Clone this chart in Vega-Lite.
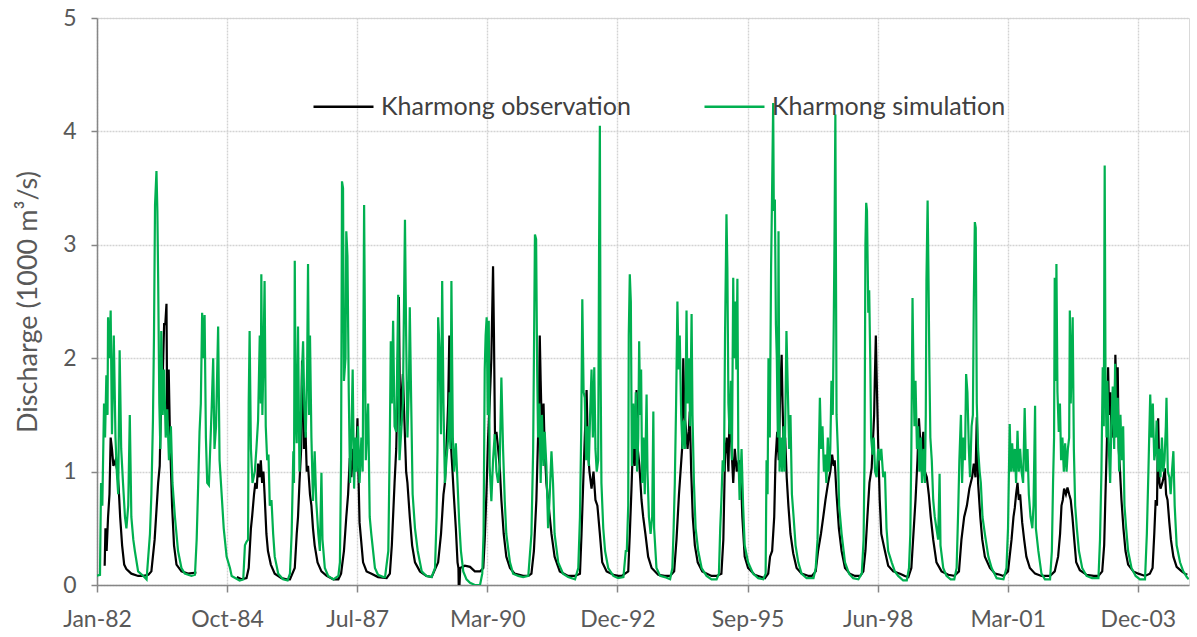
{
  "$schema": "https://vega.github.io/schema/vega-lite/v6.json",
  "width": 1092,
  "height": 567,
  "autosize": {"type": "none"},
  "padding": {"left": 97, "top": 18, "right": 8, "bottom": 52},
  "background": "#ffffff",
  "config": {
    "view": {"stroke": "#D9D9D9", "strokeWidth": 1},
    "font": "Lato",
    "axis": {
      "labelFont": "Lato",
      "titleFont": "Lato",
      "labelColor": "#595959",
      "titleColor": "#595959",
      "labelFontSize": 23,
      "titleFontSize": 27,
      "titleFontWeight": "normal",
      "domainColor": "#868686",
      "domainWidth": 1.5,
      "tickColor": "#868686",
      "tickWidth": 1.5,
      "gridColor": "#D3D3D3",
      "gridWidth": 1.4,
      "gridDash": [2, 1]
    },
    "legend": {
      "labelFont": "Lato",
      "labelFontSize": 25,
      "labelColor": "#404040",
      "labelLimit": 0
    }
  },
  "datasets": {
    "obs": [
      {"d":"1982-03-10","v":0.17,"s":1},{"d":"1982-03-16","v":0.5,"s":1},{"d":"1982-03-25","v":0.3,"s":1},{"d":"1982-04-05","v":0.6,"s":1},{"d":"1982-04-16","v":0.8,"s":1},{"d":"1982-04-25","v":1.3,"s":1},{"d":"1982-05-05","v":1.2,"s":1},{"d":"1982-05-16","v":1.05,"s":1},{"d":"1982-06-01","v":1.1,"s":1},{"d":"1982-06-16","v":1.0,"s":1},{"d":"1982-06-26","v":0.85,"s":1},{"d":"1982-07-07","v":0.6,"s":1},{"d":"1982-07-22","v":0.35,"s":1},{"d":"1982-08-07","v":0.18,"s":1},{"d":"1982-08-24","v":0.14,"s":1},{"d":"1982-10-01","v":0.1,"s":1},{"d":"1982-11-22","v":0.08,"s":1},
      {"d":"1983-01-01","v":0.08,"s":1},{"d":"1983-02-09","v":0.09,"s":1},{"d":"1983-03-04","v":0.12,"s":1},{"d":"1983-03-29","v":0.4,"s":1},{"d":"1983-04-25","v":0.9,"s":1},{"d":"1983-05-07","v":1.05,"s":1},{"d":"1983-05-15","v":1.5,"s":1},{"d":"1983-05-27","v":1.7,"s":1},{"d":"1983-06-10","v":2.3,"s":1},{"d":"1983-06-19","v":2.3,"s":1},{"d":"1983-06-28","v":2.48,"s":1},{"d":"1983-07-04","v":1.4,"s":1},{"d":"1983-07-15","v":1.9,"s":1},{"d":"1983-07-25","v":1.3,"s":1},{"d":"1983-08-10","v":0.7,"s":1},{"d":"1983-08-25","v":0.35,"s":1},{"d":"1983-09-13","v":0.18,"s":1},{"d":"1983-10-21","v":0.12,"s":1},{"d":"1983-12-10","v":0.1,"s":1},{"d":"1984-02-13","v":0.11,"s":1},
      {"d":"1984-12-20","v":0.07,"s":2},{"d":"1985-01-25","v":0.05,"s":2},{"d":"1985-03-04","v":0.06,"s":2},{"d":"1985-03-21","v":0.15,"s":2},{"d":"1985-04-07","v":0.5,"s":2},{"d":"1985-04-16","v":0.6,"s":2},{"d":"1985-05-01","v":0.8,"s":2},{"d":"1985-05-11","v":0.9,"s":2},{"d":"1985-05-22","v":0.85,"s":2},{"d":"1985-06-01","v":1.07,"s":2},{"d":"1985-06-12","v":0.95,"s":2},{"d":"1985-06-22","v":1.1,"s":2},{"d":"1985-07-02","v":0.9,"s":2},{"d":"1985-07-12","v":1.0,"s":2},{"d":"1985-07-21","v":0.8,"s":2},{"d":"1985-08-04","v":0.45,"s":2},{"d":"1985-08-16","v":0.3,"s":2},{"d":"1985-09-07","v":0.18,"s":2},{"d":"1985-10-07","v":0.1,"s":2},{"d":"1985-11-28","v":0.06,"s":2},
      {"d":"1986-01-07","v":0.05,"s":2},{"d":"1986-02-01","v":0.05,"s":2},{"d":"1986-03-10","v":0.15,"s":2},{"d":"1986-03-25","v":0.45,"s":2},{"d":"1986-04-04","v":0.6,"s":2},{"d":"1986-04-15","v":0.9,"s":2},{"d":"1986-04-28","v":1.2,"s":2},{"d":"1986-05-05","v":1.98,"s":2},{"d":"1986-05-13","v":1.8,"s":2},{"d":"1986-05-20","v":1.2,"s":2},{"d":"1986-06-01","v":1.35,"s":2},{"d":"1986-06-10","v":1.0,"s":2},{"d":"1986-06-20","v":1.05,"s":2},{"d":"1986-07-05","v":0.8,"s":2},{"d":"1986-07-16","v":0.7,"s":2},{"d":"1986-07-28","v":0.5,"s":2},{"d":"1986-08-10","v":0.35,"s":2},{"d":"1986-09-01","v":0.2,"s":2},{"d":"1986-10-01","v":0.12,"s":2},{"d":"1986-11-10","v":0.08,"s":2},
      {"d":"1987-01-01","v":0.05,"s":2},{"d":"1987-02-08","v":0.05,"s":2},{"d":"1987-03-01","v":0.1,"s":2},{"d":"1987-03-23","v":0.3,"s":2},{"d":"1987-04-10","v":0.6,"s":2},{"d":"1987-04-24","v":0.8,"s":2},{"d":"1987-05-07","v":1.12,"s":2},{"d":"1987-05-19","v":0.95,"s":2},{"d":"1987-06-01","v":1.2,"s":2},{"d":"1987-06-14","v":1.0,"s":2},{"d":"1987-06-25","v":1.1,"s":2},{"d":"1987-07-05","v":1.47,"s":2},{"d":"1987-07-12","v":1.0,"s":2},{"d":"1987-07-21","v":0.55,"s":2},{"d":"1987-08-17","v":0.2,"s":2},{"d":"1987-09-13","v":0.12,"s":2},{"d":"1987-10-21","v":0.1,"s":2},{"d":"1987-12-10","v":0.07,"s":2},
      {"d":"1988-02-14","v":0.06,"s":2},{"d":"1988-03-10","v":0.1,"s":2},{"d":"1988-03-25","v":0.35,"s":2},{"d":"1988-04-15","v":0.9,"s":2},{"d":"1988-04-28","v":1.2,"s":2},{"d":"1988-05-10","v":1.9,"s":2},{"d":"1988-05-18","v":2.54,"s":2},{"d":"1988-05-28","v":1.4,"s":2},{"d":"1988-06-05","v":1.6,"s":2},{"d":"1988-06-18","v":1.86,"s":2},{"d":"1988-07-04","v":1.3,"s":2},{"d":"1988-07-13","v":1.0,"s":2},{"d":"1988-07-23","v":0.9,"s":2},{"d":"1988-08-10","v":0.6,"s":2},{"d":"1988-08-28","v":0.35,"s":2},{"d":"1988-09-19","v":0.2,"s":2},{"d":"1988-10-27","v":0.12,"s":2},{"d":"1988-12-16","v":0.08,"s":2},
      {"d":"1989-01-25","v":0.07,"s":2},{"d":"1989-03-16","v":0.2,"s":2},{"d":"1989-04-07","v":0.45,"s":2},{"d":"1989-04-26","v":0.8,"s":2},{"d":"1989-05-07","v":0.9,"s":2},{"d":"1989-05-22","v":1.3,"s":2},{"d":"1989-06-01","v":1.6,"s":2},{"d":"1989-06-10","v":2.2,"s":2},{"d":"1989-06-19","v":1.3,"s":2},{"d":"1989-07-02","v":1.05,"s":2},{"d":"1989-07-14","v":0.8,"s":2},{"d":"1989-07-30","v":0.5,"s":2},{"d":"1989-08-12","v":0.2,"s":2},{"d":"1989-08-19","v":0.15,"s":2},{"d":"1989-08-21","v":0.0,"s":2},{"d":"1989-08-27","v":0.0,"s":2},{"d":"1989-09-02","v":0.15,"s":2},{"d":"1989-10-07","v":0.17,"s":2},{"d":"1989-11-16","v":0.16,"s":2},{"d":"1989-12-23","v":0.12,"s":2},
      {"d":"1990-02-01","v":0.12,"s":2},{"d":"1990-02-26","v":0.15,"s":2},{"d":"1990-03-09","v":0.4,"s":2},{"d":"1990-03-22","v":0.8,"s":2},{"d":"1990-04-04","v":1.3,"s":2},{"d":"1990-04-16","v":1.6,"s":2},{"d":"1990-04-29","v":2.0,"s":2},{"d":"1990-05-12","v":2.81,"s":2},{"d":"1990-05-19","v":2.2,"s":2},{"d":"1990-05-27","v":1.3,"s":2},{"d":"1990-06-07","v":1.35,"s":2},{"d":"1990-06-20","v":1.2,"s":2},{"d":"1990-07-02","v":1.05,"s":2},{"d":"1990-07-15","v":0.75,"s":2},{"d":"1990-08-02","v":0.45,"s":2},{"d":"1990-08-22","v":0.25,"s":2},{"d":"1990-09-19","v":0.15,"s":2},{"d":"1990-10-25","v":0.1,"s":2},{"d":"1990-12-29","v":0.08,"s":2},
      {"d":"1991-02-07","v":0.08,"s":2},{"d":"1991-03-03","v":0.1,"s":2},{"d":"1991-03-22","v":0.3,"s":2},{"d":"1991-04-10","v":0.75,"s":2},{"d":"1991-04-23","v":1.3,"s":2},{"d":"1991-05-01","v":1.7,"s":2},{"d":"1991-05-06","v":2.2,"s":2},{"d":"1991-05-13","v":1.8,"s":2},{"d":"1991-05-23","v":1.3,"s":2},{"d":"1991-06-04","v":1.6,"s":2},{"d":"1991-06-13","v":1.2,"s":2},{"d":"1991-06-26","v":0.9,"s":2},{"d":"1991-07-09","v":0.75,"s":2},{"d":"1991-08-04","v":0.45,"s":2},{"d":"1991-08-28","v":0.25,"s":2},{"d":"1991-10-07","v":0.12,"s":2},{"d":"1991-12-10","v":0.08,"s":2},
      {"d":"1992-02-01","v":0.08,"s":2},{"d":"1992-03-10","v":0.1,"s":2},{"d":"1992-03-22","v":0.45,"s":2},{"d":"1992-04-04","v":0.9,"s":2},{"d":"1992-04-16","v":1.3,"s":2},{"d":"1992-04-30","v":1.72,"s":2},{"d":"1992-05-10","v":1.2,"s":2},{"d":"1992-05-22","v":1.0,"s":2},{"d":"1992-06-07","v":0.85,"s":2},{"d":"1992-06-22","v":1.0,"s":2},{"d":"1992-07-07","v":0.75,"s":2},{"d":"1992-07-22","v":0.7,"s":2},{"d":"1992-08-10","v":0.45,"s":2},{"d":"1992-08-28","v":0.2,"s":2},{"d":"1992-10-01","v":0.12,"s":2},{"d":"1992-11-22","v":0.09,"s":2},{"d":"1992-12-28","v":0.08,"s":2},
      {"d":"1993-01-25","v":0.08,"s":2},{"d":"1993-03-16","v":0.12,"s":2},{"d":"1993-03-28","v":0.45,"s":2},{"d":"1993-04-10","v":0.85,"s":2},{"d":"1993-04-23","v":1.3,"s":2},{"d":"1993-05-05","v":1.05,"s":2},{"d":"1993-05-19","v":1.72,"s":2},{"d":"1993-05-28","v":1.2,"s":2},{"d":"1993-06-10","v":1.05,"s":2},{"d":"1993-06-26","v":0.75,"s":2},{"d":"1993-07-09","v":0.6,"s":2},{"d":"1993-07-26","v":0.45,"s":2},{"d":"1993-08-16","v":0.25,"s":2},{"d":"1993-09-12","v":0.15,"s":2},{"d":"1993-11-01","v":0.09,"s":2},{"d":"1993-12-22","v":0.08,"s":2},
      {"d":"1994-02-01","v":0.08,"s":2},{"d":"1994-03-04","v":0.12,"s":2},{"d":"1994-03-22","v":0.4,"s":2},{"d":"1994-04-10","v":0.8,"s":2},{"d":"1994-04-25","v":1.05,"s":2},{"d":"1994-05-04","v":1.2,"s":2},{"d":"1994-05-13","v":2.0,"s":2},{"d":"1994-05-22","v":1.5,"s":2},{"d":"1994-06-01","v":1.4,"s":2},{"d":"1994-06-15","v":1.2,"s":2},{"d":"1994-06-25","v":1.35,"s":2},{"d":"1994-07-02","v":1.53,"s":2},{"d":"1994-07-13","v":1.0,"s":2},{"d":"1994-07-25","v":0.6,"s":2},{"d":"1994-08-10","v":0.35,"s":2},{"d":"1994-09-01","v":0.2,"s":2},{"d":"1994-10-06","v":0.12,"s":2},{"d":"1994-12-16","v":0.08,"s":2},
      {"d":"1995-01-24","v":0.08,"s":2},{"d":"1995-03-02","v":0.1,"s":2},{"d":"1995-03-17","v":0.4,"s":2},{"d":"1995-03-30","v":1.15,"s":2},{"d":"1995-04-12","v":1.3,"s":2},{"d":"1995-04-25","v":1.0,"s":2},{"d":"1995-05-04","v":1.55,"s":2},{"d":"1995-05-17","v":1.25,"s":2},{"d":"1995-06-01","v":0.9,"s":2},{"d":"1995-06-13","v":1.2,"s":2},{"d":"1995-06-28","v":1.0,"s":2},{"d":"1995-07-13","v":1.1,"s":2},{"d":"1995-07-28","v":1.05,"s":2},{"d":"1995-08-10","v":0.6,"s":2},{"d":"1995-08-28","v":0.25,"s":2},{"d":"1995-09-23","v":0.15,"s":2},{"d":"1995-11-13","v":0.09,"s":2},{"d":"1995-12-10","v":0.08,"s":2},
      {"d":"1996-01-31","v":0.06,"s":2},{"d":"1996-02-25","v":0.1,"s":2},{"d":"1996-03-10","v":0.25,"s":2},{"d":"1996-03-26","v":0.3,"s":2},{"d":"1996-04-11","v":0.6,"s":2},{"d":"1996-04-21","v":1.1,"s":2},{"d":"1996-05-04","v":1.35,"s":2},{"d":"1996-05-16","v":1.1,"s":2},{"d":"1996-05-26","v":1.65,"s":2},{"d":"1996-06-07","v":2.03,"s":2},{"d":"1996-06-14","v":1.6,"s":2},{"d":"1996-06-25","v":1.1,"s":2},{"d":"1996-07-04","v":1.3,"s":2},{"d":"1996-07-16","v":0.95,"s":2},{"d":"1996-07-29","v":0.7,"s":2},{"d":"1996-08-14","v":0.45,"s":2},{"d":"1996-09-04","v":0.28,"s":2},{"d":"1996-09-30","v":0.15,"s":2},{"d":"1996-11-07","v":0.1,"s":2},
      {"d":"1997-01-01","v":0.08,"s":2},{"d":"1997-01-25","v":0.08,"s":2},{"d":"1997-02-24","v":0.12,"s":2},{"d":"1997-03-14","v":0.3,"s":2},{"d":"1997-04-05","v":0.45,"s":2},{"d":"1997-04-23","v":0.6,"s":2},{"d":"1997-05-10","v":0.75,"s":2},{"d":"1997-05-30","v":0.9,"s":2},{"d":"1997-06-16","v":1.0,"s":2},{"d":"1997-06-30","v":1.15,"s":2},{"d":"1997-07-12","v":1.05,"s":2},{"d":"1997-07-20","v":1.1,"s":2},{"d":"1997-08-03","v":0.8,"s":2},{"d":"1997-08-21","v":0.5,"s":2},{"d":"1997-09-11","v":0.3,"s":2},{"d":"1997-10-07","v":0.15,"s":2},{"d":"1997-11-13","v":0.1,"s":2},{"d":"1997-12-22","v":0.08,"s":2},
      {"d":"1998-02-01","v":0.08,"s":2},{"d":"1998-02-25","v":0.12,"s":2},{"d":"1998-03-13","v":0.3,"s":2},{"d":"1998-03-28","v":0.6,"s":2},{"d":"1998-04-13","v":0.9,"s":2},{"d":"1998-04-30","v":1.03,"s":2},{"d":"1998-05-11","v":1.3,"s":2},{"d":"1998-05-19","v":1.5,"s":2},{"d":"1998-05-24","v":1.8,"s":2},{"d":"1998-06-01","v":2.2,"s":2},{"d":"1998-06-08","v":1.8,"s":2},{"d":"1998-06-19","v":1.25,"s":2},{"d":"1998-07-01","v":0.75,"s":2},{"d":"1998-07-13","v":0.45,"s":2},{"d":"1998-08-10","v":0.3,"s":2},{"d":"1998-09-04","v":0.17,"s":2},{"d":"1998-10-13","v":0.12,"s":2},{"d":"1998-12-04","v":0.1,"s":2},
      {"d":"1999-01-10","v":0.08,"s":2},{"d":"1999-02-06","v":0.07,"s":2},{"d":"1999-03-01","v":0.15,"s":2},{"d":"1999-03-17","v":0.45,"s":2},{"d":"1999-04-02","v":0.75,"s":2},{"d":"1999-04-17","v":1.1,"s":2},{"d":"1999-04-28","v":1.47,"s":2},{"d":"1999-05-07","v":1.3,"s":2},{"d":"1999-05-17","v":1.15,"s":2},{"d":"1999-06-01","v":1.35,"s":2},{"d":"1999-06-13","v":1.0,"s":2},{"d":"1999-06-28","v":0.95,"s":2},{"d":"1999-07-13","v":0.8,"s":2},{"d":"1999-07-28","v":0.6,"s":2},{"d":"1999-08-16","v":0.4,"s":2},{"d":"1999-09-10","v":0.2,"s":2},{"d":"1999-10-19","v":0.12,"s":2},{"d":"1999-12-10","v":0.09,"s":2},
      {"d":"2000-01-25","v":0.08,"s":2},{"d":"2000-03-01","v":0.12,"s":2},{"d":"2000-03-20","v":0.4,"s":2},{"d":"2000-04-10","v":0.6,"s":2},{"d":"2000-05-01","v":0.7,"s":2},{"d":"2000-05-20","v":0.85,"s":2},{"d":"2000-06-10","v":0.95,"s":2},{"d":"2000-06-23","v":1.07,"s":2},{"d":"2000-07-06","v":0.95,"s":2},{"d":"2000-07-16","v":1.48,"s":2},{"d":"2000-07-26","v":0.9,"s":2},{"d":"2000-08-12","v":0.6,"s":2},{"d":"2000-08-27","v":0.4,"s":2},{"d":"2000-09-16","v":0.25,"s":2},{"d":"2000-10-25","v":0.15,"s":2},{"d":"2000-12-04","v":0.1,"s":2},
      {"d":"2001-01-10","v":0.09,"s":2},{"d":"2001-02-06","v":0.08,"s":2},{"d":"2001-03-13","v":0.12,"s":2},{"d":"2001-04-09","v":0.4,"s":2},{"d":"2001-04-24","v":0.6,"s":2},{"d":"2001-05-04","v":0.68,"s":2},{"d":"2001-05-14","v":0.8,"s":2},{"d":"2001-05-25","v":0.9,"s":2},{"d":"2001-06-04","v":0.75,"s":2},{"d":"2001-06-14","v":0.8,"s":2},{"d":"2001-06-30","v":0.55,"s":2},{"d":"2001-07-15","v":0.4,"s":2},{"d":"2001-08-01","v":0.25,"s":2},{"d":"2001-08-28","v":0.15,"s":2},{"d":"2001-10-07","v":0.1,"s":2},{"d":"2001-11-25","v":0.08,"s":2},
      {"d":"2002-01-04","v":0.08,"s":2},{"d":"2002-01-30","v":0.08,"s":2},{"d":"2002-03-07","v":0.12,"s":2},{"d":"2002-04-02","v":0.25,"s":2},{"d":"2002-04-17","v":0.45,"s":2},{"d":"2002-04-28","v":0.7,"s":2},{"d":"2002-05-08","v":0.75,"s":2},{"d":"2002-05-18","v":0.85,"s":2},{"d":"2002-06-01","v":0.8,"s":2},{"d":"2002-06-13","v":0.86,"s":2},{"d":"2002-06-26","v":0.8,"s":2},{"d":"2002-07-08","v":0.75,"s":2},{"d":"2002-07-21","v":0.6,"s":2},{"d":"2002-08-04","v":0.4,"s":2},{"d":"2002-08-19","v":0.2,"s":2},{"d":"2002-09-16","v":0.13,"s":2},{"d":"2002-11-07","v":0.09,"s":2},
      {"d":"2003-01-01","v":0.08,"s":2},{"d":"2003-02-06","v":0.08,"s":2},{"d":"2003-03-07","v":0.12,"s":2},{"d":"2003-03-22","v":0.35,"s":2},{"d":"2003-04-01","v":0.8,"s":2},{"d":"2003-04-13","v":1.3,"s":2},{"d":"2003-04-21","v":1.92,"s":2},{"d":"2003-04-29","v":1.5,"s":2},{"d":"2003-05-09","v":1.7,"s":2},{"d":"2003-05-19","v":1.3,"s":2},{"d":"2003-05-27","v":1.5,"s":2},{"d":"2003-06-09","v":1.3,"s":2},{"d":"2003-06-16","v":2.03,"s":2},{"d":"2003-06-25","v":1.6,"s":2},{"d":"2003-07-04","v":1.92,"s":2},{"d":"2003-07-12","v":1.2,"s":2},{"d":"2003-07-22","v":1.0,"s":2},{"d":"2003-08-02","v":0.75,"s":2},{"d":"2003-08-17","v":0.5,"s":2},{"d":"2003-09-02","v":0.3,"s":2},{"d":"2003-09-22","v":0.18,"s":2},{"d":"2003-11-01","v":0.12,"s":2},{"d":"2003-12-10","v":0.1,"s":2},
      {"d":"2004-01-30","v":0.08,"s":2},{"d":"2004-03-07","v":0.1,"s":2},{"d":"2004-03-28","v":0.15,"s":2},{"d":"2004-04-10","v":0.45,"s":2},{"d":"2004-04-21","v":0.75,"s":2},{"d":"2004-05-01","v":0.7,"s":2},{"d":"2004-05-10","v":1.47,"s":2},{"d":"2004-05-20","v":0.9,"s":2},{"d":"2004-05-28","v":0.85,"s":2},{"d":"2004-06-11","v":0.9,"s":2},{"d":"2004-06-21","v":0.95,"s":2},{"d":"2004-06-30","v":1.03,"s":2},{"d":"2004-07-10","v":0.8,"s":2},{"d":"2004-07-21","v":0.75,"s":2},{"d":"2004-08-04","v":0.55,"s":2},{"d":"2004-08-16","v":0.4,"s":2},{"d":"2004-09-04","v":0.25,"s":2},{"d":"2004-09-29","v":0.16,"s":2},{"d":"2004-11-07","v":0.12,"s":2},{"d":"2004-12-01","v":0.1,"s":2},{"d":"2004-12-20","v":0.09,"s":2}
    ],
    "sim": [
      {"d":"1982-01-01","v":0.08},{"d":"1982-02-02","v":0.09},{"d":"1982-02-10","v":0.9},{"d":"1982-02-20","v":0.7},{"d":"1982-03-05","v":1.6},{"d":"1982-03-13","v":1.3},{"d":"1982-03-23","v":1.85},{"d":"1982-04-01","v":1.5},{"d":"1982-04-05","v":2.36},{"d":"1982-04-16","v":2.0},{"d":"1982-04-25","v":2.42},{"d":"1982-05-05","v":1.33},{"d":"1982-05-19","v":2.2},{"d":"1982-06-01","v":1.3},{"d":"1982-06-11","v":1.0},{"d":"1982-06-22","v":0.8},{"d":"1982-07-03","v":2.07},{"d":"1982-07-15","v":1.2},{"d":"1982-07-29","v":0.9},{"d":"1982-08-13","v":0.6},{"d":"1982-08-24","v":0.5},{"d":"1982-09-07","v":0.7},{"d":"1982-09-19","v":1.5},{"d":"1982-10-01","v":0.6},{"d":"1982-10-16","v":0.4},{"d":"1982-10-28","v":0.3},{"d":"1982-11-22","v":0.12},
      {"d":"1983-01-01","v":0.08},{"d":"1983-01-26","v":0.05},{"d":"1983-02-21","v":0.45},{"d":"1983-03-04","v":0.8},{"d":"1983-03-16","v":1.45},{"d":"1983-03-24","v":2.2},{"d":"1983-04-01","v":3.35},{"d":"1983-04-12","v":3.65},{"d":"1983-04-19","v":3.3},{"d":"1983-04-25","v":2.7},{"d":"1983-05-04","v":1.6},{"d":"1983-05-12","v":1.2},{"d":"1983-05-19","v":2.24},{"d":"1983-05-30","v":1.5},{"d":"1983-06-10","v":1.9},{"d":"1983-06-22","v":1.3},{"d":"1983-07-04","v":1.55},{"d":"1983-07-17","v":1.1},{"d":"1983-08-01","v":1.4},{"d":"1983-08-13","v":0.9},{"d":"1983-09-01","v":0.6},{"d":"1983-09-25","v":0.3},{"d":"1983-10-21","v":0.15},{"d":"1983-11-16","v":0.1},
      {"d":"1984-01-06","v":0.08},{"d":"1984-02-02","v":0.09},{"d":"1984-02-15","v":0.4},{"d":"1984-02-27","v":0.9},{"d":"1984-03-08","v":1.35},{"d":"1984-03-18","v":1.6},{"d":"1984-03-28","v":2.4},{"d":"1984-04-08","v":2.0},{"d":"1984-04-16","v":2.38},{"d":"1984-04-26","v":1.3},{"d":"1984-05-06","v":0.9},{"d":"1984-05-19","v":0.88},{"d":"1984-05-29","v":1.2},{"d":"1984-06-09","v":1.55},{"d":"1984-06-21","v":2.0},{"d":"1984-07-01","v":1.2},{"d":"1984-07-13","v":1.4},{"d":"1984-07-29","v":2.28},{"d":"1984-08-09","v":1.1},{"d":"1984-08-25","v":0.8},{"d":"1984-09-10","v":0.5},{"d":"1984-10-02","v":0.25},{"d":"1984-10-28","v":0.15},{"d":"1984-11-10","v":0.08},
      {"d":"1985-01-10","v":0.04},{"d":"1985-02-07","v":0.05},{"d":"1985-02-20","v":0.35},{"d":"1985-03-04","v":0.38},{"d":"1985-03-16","v":0.4},{"d":"1985-03-21","v":1.6},{"d":"1985-03-28","v":2.24},{"d":"1985-04-07","v":1.2},{"d":"1985-04-19","v":0.9},{"d":"1985-05-07","v":1.0},{"d":"1985-05-19","v":1.2},{"d":"1985-06-01","v":1.45},{"d":"1985-06-14","v":2.2},{"d":"1985-06-22","v":1.6},{"d":"1985-06-26","v":2.74},{"d":"1985-07-04","v":1.5},{"d":"1985-07-12","v":1.95},{"d":"1985-07-21","v":2.68},{"d":"1985-07-30","v":1.4},{"d":"1985-08-10","v":1.1},{"d":"1985-08-20","v":1.15},{"d":"1985-08-30","v":0.7},{"d":"1985-09-12","v":0.75},{"d":"1985-09-25","v":0.45},{"d":"1985-10-07","v":0.25},{"d":"1985-11-03","v":0.1},{"d":"1985-12-10","v":0.05},
      {"d":"1986-01-14","v":0.04},{"d":"1986-02-01","v":0.1},{"d":"1986-02-14","v":0.45},{"d":"1986-02-27","v":1.18},{"d":"1986-03-04","v":0.9},{"d":"1986-03-10","v":2.86},{"d":"1986-03-17","v":1.5},{"d":"1986-03-25","v":1.25},{"d":"1986-04-04","v":2.28},{"d":"1986-04-15","v":1.0},{"d":"1986-04-25","v":1.4},{"d":"1986-05-05","v":1.9},{"d":"1986-05-13","v":2.15},{"d":"1986-05-22","v":1.6},{"d":"1986-06-02","v":1.3},{"d":"1986-06-13","v":1.9},{"d":"1986-06-20","v":2.83},{"d":"1986-06-28","v":1.5},{"d":"1986-07-05","v":2.2},{"d":"1986-07-16","v":1.3},{"d":"1986-07-28","v":0.74},{"d":"1986-08-10","v":1.18},{"d":"1986-08-22","v":0.74},{"d":"1986-09-07","v":0.45},{"d":"1986-09-19","v":0.3},{"d":"1986-10-01","v":0.99},{"d":"1986-10-09","v":0.4},{"d":"1986-10-27","v":0.15},{"d":"1986-11-22","v":0.08},
      {"d":"1987-01-01","v":0.05},{"d":"1987-02-08","v":0.08},{"d":"1987-02-20","v":0.2},{"d":"1987-03-01","v":1.1},{"d":"1987-03-08","v":3.56},{"d":"1987-03-16","v":3.5},{"d":"1987-03-23","v":1.8},{"d":"1987-04-04","v":2.0},{"d":"1987-04-10","v":3.12},{"d":"1987-04-19","v":2.9},{"d":"1987-04-29","v":1.7},{"d":"1987-05-09","v":0.9},{"d":"1987-05-19","v":1.3},{"d":"1987-05-29","v":1.9},{"d":"1987-06-09","v":0.85},{"d":"1987-06-19","v":1.3},{"d":"1987-06-29","v":1.0},{"d":"1987-07-09","v":1.4},{"d":"1987-07-21","v":0.9},{"d":"1987-08-04","v":1.3},{"d":"1987-08-14","v":1.0},{"d":"1987-08-25","v":3.35},{"d":"1987-09-07","v":1.1},{"d":"1987-09-25","v":1.6},{"d":"1987-10-07","v":0.6},{"d":"1987-10-19","v":0.45},{"d":"1987-11-16","v":0.15},{"d":"1987-12-10","v":0.09},
      {"d":"1988-01-20","v":0.07},{"d":"1988-02-02","v":0.07},{"d":"1988-02-27","v":0.3},{"d":"1988-03-10","v":1.33},{"d":"1988-03-17","v":2.15},{"d":"1988-03-25","v":1.6},{"d":"1988-04-04","v":2.33},{"d":"1988-04-15","v":1.4},{"d":"1988-04-28","v":1.35},{"d":"1988-05-13","v":2.56},{"d":"1988-05-23","v":1.1},{"d":"1988-06-05","v":1.35},{"d":"1988-06-18","v":1.6},{"d":"1988-07-04","v":3.22},{"d":"1988-07-13","v":2.2},{"d":"1988-07-23","v":1.3},{"d":"1988-08-04","v":1.8},{"d":"1988-08-10","v":2.45},{"d":"1988-08-21","v":1.6},{"d":"1988-09-01","v":0.8},{"d":"1988-09-19","v":0.5},{"d":"1988-10-10","v":0.3},{"d":"1988-11-10","v":0.12},{"d":"1988-12-16","v":0.08},
      {"d":"1989-01-25","v":0.07},{"d":"1989-02-20","v":0.15},{"d":"1989-03-04","v":0.6},{"d":"1989-03-11","v":1.2},{"d":"1989-03-16","v":2.36},{"d":"1989-03-26","v":2.1},{"d":"1989-04-07","v":1.33},{"d":"1989-04-16","v":2.68},{"d":"1989-04-26","v":1.6},{"d":"1989-05-07","v":0.9},{"d":"1989-05-19","v":1.1},{"d":"1989-06-01","v":1.3},{"d":"1989-06-12","v":1.7},{"d":"1989-06-19","v":1.2},{"d":"1989-06-26","v":2.68},{"d":"1989-07-07","v":1.3},{"d":"1989-07-17","v":1.0},{"d":"1989-07-30","v":1.25},{"d":"1989-08-12","v":0.9},{"d":"1989-08-25","v":0.55},{"d":"1989-09-07","v":0.3},{"d":"1989-09-25","v":0.12},{"d":"1989-10-20","v":0.05},{"d":"1989-11-16","v":0.02},{"d":"1989-12-23","v":0.0},
      {"d":"1990-02-01","v":0.0},{"d":"1990-02-18","v":0.1},{"d":"1990-02-28","v":0.45},{"d":"1990-03-09","v":1.9},{"d":"1990-03-16","v":2.2},{"d":"1990-03-24","v":2.36},{"d":"1990-04-01","v":1.5},{"d":"1990-04-09","v":2.33},{"d":"1990-04-16","v":1.05},{"d":"1990-04-29","v":0.74},{"d":"1990-05-12","v":1.1},{"d":"1990-05-25","v":1.33},{"d":"1990-06-07","v":1.0},{"d":"1990-06-20","v":0.9},{"d":"1990-07-02","v":1.05},{"d":"1990-07-15","v":1.83},{"d":"1990-07-28","v":1.2},{"d":"1990-08-10","v":0.74},{"d":"1990-08-22","v":0.45},{"d":"1990-09-19","v":0.2},{"d":"1990-10-13","v":0.1},{"d":"1990-11-22","v":0.08},{"d":"1990-12-29","v":0.07},
      {"d":"1991-02-07","v":0.08},{"d":"1991-03-03","v":0.45},{"d":"1991-03-16","v":1.18},{"d":"1991-03-22","v":1.98},{"d":"1991-03-30","v":3.09},{"d":"1991-04-08","v":3.05},{"d":"1991-04-16","v":1.9},{"d":"1991-04-23","v":1.3},{"d":"1991-05-03","v":1.6},{"d":"1991-05-13","v":0.9},{"d":"1991-05-23","v":1.5},{"d":"1991-06-04","v":1.05},{"d":"1991-06-13","v":1.35},{"d":"1991-06-26","v":1.05},{"d":"1991-07-09","v":0.5},{"d":"1991-07-22","v":0.8},{"d":"1991-08-04","v":1.18},{"d":"1991-08-16","v":0.9},{"d":"1991-08-28","v":0.45},{"d":"1991-09-25","v":0.2},{"d":"1991-11-01","v":0.1},{"d":"1991-12-10","v":0.07},
      {"d":"1992-02-01","v":0.05},{"d":"1992-02-26","v":0.15},{"d":"1992-03-10","v":0.6},{"d":"1992-03-19","v":1.3},{"d":"1992-03-28","v":2.52},{"d":"1992-04-07","v":1.7},{"d":"1992-04-16","v":1.65},{"d":"1992-04-27","v":1.1},{"d":"1992-05-07","v":1.4},{"d":"1992-05-17","v":1.05},{"d":"1992-05-27","v":1.5},{"d":"1992-06-07","v":1.9},{"d":"1992-06-17","v":1.3},{"d":"1992-06-28","v":1.92},{"d":"1992-07-07","v":1.2},{"d":"1992-07-17","v":1.0},{"d":"1992-07-28","v":1.1},{"d":"1992-08-04","v":3.0},{"d":"1992-08-10","v":4.05},{"d":"1992-08-15","v":2.0},{"d":"1992-08-22","v":0.9},{"d":"1992-09-05","v":0.5},{"d":"1992-09-19","v":0.3},{"d":"1992-10-13","v":0.15},{"d":"1992-11-22","v":0.08},{"d":"1992-12-28","v":0.06},
      {"d":"1993-02-07","v":0.07},{"d":"1993-02-25","v":0.3},{"d":"1993-03-05","v":0.3},{"d":"1993-03-16","v":0.7},{"d":"1993-03-20","v":2.2},{"d":"1993-03-28","v":2.74},{"d":"1993-04-05","v":2.5},{"d":"1993-04-13","v":1.05},{"d":"1993-04-23","v":1.6},{"d":"1993-05-03","v":1.2},{"d":"1993-05-13","v":1.7},{"d":"1993-05-23","v":1.0},{"d":"1993-06-01","v":1.3},{"d":"1993-06-08","v":2.15},{"d":"1993-06-16","v":1.5},{"d":"1993-06-23","v":1.9},{"d":"1993-07-01","v":0.9},{"d":"1993-07-11","v":1.3},{"d":"1993-07-21","v":0.8},{"d":"1993-08-04","v":1.68},{"d":"1993-08-11","v":1.0},{"d":"1993-08-22","v":0.6},{"d":"1993-09-04","v":0.45},{"d":"1993-09-16","v":0.6},{"d":"1993-09-25","v":1.53},{"d":"1993-10-01","v":0.5},{"d":"1993-10-19","v":0.15},{"d":"1993-11-16","v":0.08},{"d":"1993-12-22","v":0.07},
      {"d":"1994-02-01","v":0.05},{"d":"1994-02-18","v":0.15},{"d":"1994-02-28","v":0.5},{"d":"1994-03-09","v":0.9},{"d":"1994-03-19","v":1.6},{"d":"1994-03-29","v":2.5},{"d":"1994-04-07","v":1.9},{"d":"1994-04-16","v":2.2},{"d":"1994-04-27","v":1.5},{"d":"1994-05-07","v":1.2},{"d":"1994-05-17","v":1.45},{"d":"1994-05-27","v":1.2},{"d":"1994-06-07","v":2.42},{"d":"1994-06-15","v":1.6},{"d":"1994-06-25","v":2.0},{"d":"1994-07-05","v":1.4},{"d":"1994-07-16","v":2.39},{"d":"1994-07-23","v":1.5},{"d":"1994-08-03","v":0.9},{"d":"1994-08-16","v":0.5},{"d":"1994-09-05","v":0.3},{"d":"1994-10-01","v":0.15},{"d":"1994-11-08","v":0.08},{"d":"1994-12-16","v":0.05},
      {"d":"1995-01-24","v":0.05},{"d":"1995-02-11","v":0.1},{"d":"1995-02-21","v":0.5},{"d":"1995-03-02","v":0.75},{"d":"1995-03-12","v":1.1},{"d":"1995-03-22","v":1.0},{"d":"1995-03-30","v":2.2},{"d":"1995-04-10","v":3.27},{"d":"1995-04-17","v":2.8},{"d":"1995-04-25","v":1.6},{"d":"1995-05-04","v":1.33},{"d":"1995-05-14","v":1.8},{"d":"1995-05-22","v":1.1},{"d":"1995-06-01","v":2.71},{"d":"1995-06-07","v":2.0},{"d":"1995-06-18","v":2.5},{"d":"1995-06-25","v":1.9},{"d":"1995-07-03","v":2.7},{"d":"1995-07-10","v":1.2},{"d":"1995-07-20","v":0.75},{"d":"1995-08-04","v":1.2},{"d":"1995-08-16","v":0.7},{"d":"1995-08-28","v":0.35},{"d":"1995-09-23","v":0.2},{"d":"1995-11-01","v":0.1},{"d":"1995-12-10","v":0.06},
      {"d":"1996-01-18","v":0.05},{"d":"1996-02-05","v":0.1},{"d":"1996-02-12","v":1.1},{"d":"1996-02-20","v":0.8},{"d":"1996-02-27","v":2.0},{"d":"1996-03-08","v":1.3},{"d":"1996-03-18","v":2.8},{"d":"1996-03-26","v":3.5},{"d":"1996-04-03","v":4.25},{"d":"1996-04-08","v":3.3},{"d":"1996-04-16","v":3.4},{"d":"1996-04-24","v":2.3},{"d":"1996-05-01","v":2.0},{"d":"1996-05-09","v":1.3},{"d":"1996-05-14","v":3.12},{"d":"1996-05-22","v":1.0},{"d":"1996-06-01","v":1.3},{"d":"1996-06-11","v":1.0},{"d":"1996-06-22","v":1.4},{"d":"1996-06-30","v":1.0},{"d":"1996-07-14","v":2.24},{"d":"1996-07-25","v":1.7},{"d":"1996-08-04","v":1.2},{"d":"1996-08-14","v":1.5},{"d":"1996-08-25","v":0.8},{"d":"1996-09-07","v":0.6},{"d":"1996-09-22","v":0.35},{"d":"1996-10-13","v":0.2},{"d":"1996-11-07","v":0.1},{"d":"1996-12-16","v":0.06},
      {"d":"1997-02-07","v":0.06},{"d":"1997-02-24","v":0.15},{"d":"1997-03-10","v":0.4},{"d":"1997-03-19","v":1.1},{"d":"1997-03-28","v":1.65},{"d":"1997-04-07","v":1.2},{"d":"1997-04-17","v":1.4},{"d":"1997-04-28","v":1.0},{"d":"1997-05-07","v":1.15},{"d":"1997-05-17","v":0.9},{"d":"1997-05-28","v":1.3},{"d":"1997-06-05","v":1.0},{"d":"1997-06-16","v":1.2},{"d":"1997-06-25","v":1.8},{"d":"1997-07-05","v":1.5},{"d":"1997-07-12","v":2.24},{"d":"1997-07-18","v":3.0},{"d":"1997-07-25","v":4.15},{"d":"1997-08-03","v":1.5},{"d":"1997-08-13","v":1.2},{"d":"1997-08-23","v":0.7},{"d":"1997-09-11","v":0.45},{"d":"1997-10-07","v":0.2},{"d":"1997-11-07","v":0.1},{"d":"1997-12-09","v":0.06},
      {"d":"1998-01-18","v":0.05},{"d":"1998-02-13","v":0.1},{"d":"1998-02-27","v":0.4},{"d":"1998-03-06","v":1.1},{"d":"1998-03-13","v":3.0},{"d":"1998-03-19","v":3.37},{"d":"1998-03-25","v":3.3},{"d":"1998-04-04","v":2.4},{"d":"1998-04-11","v":2.6},{"d":"1998-04-19","v":2.0},{"d":"1998-04-26","v":1.3},{"d":"1998-05-07","v":1.15},{"d":"1998-05-16","v":1.3},{"d":"1998-05-26","v":1.0},{"d":"1998-06-07","v":0.95},{"d":"1998-06-19","v":1.2},{"d":"1998-07-01","v":1.1},{"d":"1998-07-13","v":1.2},{"d":"1998-07-28","v":0.95},{"d":"1998-08-10","v":1.0},{"d":"1998-08-22","v":0.5},{"d":"1998-09-04","v":0.3},{"d":"1998-10-01","v":0.2},{"d":"1998-10-25","v":0.12},{"d":"1998-11-20","v":0.08},{"d":"1998-12-28","v":0.04},
      {"d":"1999-01-25","v":0.04},{"d":"1999-02-11","v":0.15},{"d":"1999-02-21","v":0.45},{"d":"1999-03-01","v":1.2},{"d":"1999-03-10","v":2.53},{"d":"1999-03-17","v":1.9},{"d":"1999-03-25","v":1.4},{"d":"1999-04-02","v":1.8},{"d":"1999-04-13","v":1.2},{"d":"1999-04-22","v":1.4},{"d":"1999-05-02","v":1.0},{"d":"1999-05-13","v":1.3},{"d":"1999-05-22","v":0.9},{"d":"1999-06-03","v":1.2},{"d":"1999-06-13","v":0.9},{"d":"1999-06-20","v":1.5},{"d":"1999-06-25","v":2.68},{"d":"1999-07-04","v":3.39},{"d":"1999-07-10","v":2.8},{"d":"1999-07-18","v":1.9},{"d":"1999-07-25","v":1.3},{"d":"1999-08-05","v":1.1},{"d":"1999-08-16","v":0.75},{"d":"1999-08-28","v":0.6},{"d":"1999-09-10","v":0.5},{"d":"1999-09-23","v":0.4},{"d":"1999-10-04","v":0.98},{"d":"1999-10-11","v":0.35},{"d":"1999-11-01","v":0.15},{"d":"1999-11-26","v":0.08},{"d":"1999-12-28","v":0.05},
      {"d":"2000-01-25","v":0.05},{"d":"2000-02-12","v":0.15},{"d":"2000-02-25","v":0.7},{"d":"2000-03-04","v":1.1},{"d":"2000-03-16","v":1.5},{"d":"2000-03-25","v":0.9},{"d":"2000-04-05","v":1.3},{"d":"2000-04-16","v":1.1},{"d":"2000-04-25","v":1.86},{"d":"2000-05-05","v":1.7},{"d":"2000-05-16","v":1.2},{"d":"2000-05-25","v":0.95},{"d":"2000-06-06","v":1.4},{"d":"2000-06-16","v":1.5},{"d":"2000-06-23","v":2.5},{"d":"2000-07-01","v":3.2},{"d":"2000-07-08","v":3.15},{"d":"2000-07-16","v":1.6},{"d":"2000-07-26","v":1.2},{"d":"2000-08-07","v":1.0},{"d":"2000-08-16","v":0.9},{"d":"2000-08-29","v":0.6},{"d":"2000-09-16","v":0.45},{"d":"2000-10-13","v":0.25},{"d":"2000-11-07","v":0.15},{"d":"2000-12-16","v":0.06},
      {"d":"2001-02-06","v":0.05},{"d":"2001-03-01","v":0.15},{"d":"2001-03-13","v":0.5},{"d":"2001-03-20","v":1.0},{"d":"2001-03-26","v":1.42},{"d":"2001-04-04","v":1.0},{"d":"2001-04-14","v":1.25},{"d":"2001-04-24","v":1.0},{"d":"2001-05-04","v":1.2},{"d":"2001-05-14","v":0.9},{"d":"2001-05-25","v":1.36},{"d":"2001-06-04","v":1.0},{"d":"2001-06-14","v":1.2},{"d":"2001-06-25","v":1.0},{"d":"2001-07-07","v":0.9},{"d":"2001-07-19","v":1.56},{"d":"2001-07-30","v":1.0},{"d":"2001-08-10","v":1.2},{"d":"2001-08-20","v":0.8},{"d":"2001-09-02","v":0.6},{"d":"2001-09-16","v":0.5},{"d":"2001-09-25","v":0.7},{"d":"2001-10-07","v":1.58},{"d":"2001-10-13","v":0.5},{"d":"2001-11-01","v":0.3},{"d":"2001-11-25","v":0.1},{"d":"2001-12-22","v":0.05},
      {"d":"2002-01-30","v":0.05},{"d":"2002-02-13","v":0.3},{"d":"2002-02-22","v":0.9},{"d":"2002-03-02","v":1.3},{"d":"2002-03-07","v":2.71},{"d":"2002-03-15","v":1.8},{"d":"2002-03-20","v":2.83},{"d":"2002-03-28","v":1.7},{"d":"2002-04-07","v":1.35},{"d":"2002-04-16","v":1.6},{"d":"2002-04-25","v":1.1},{"d":"2002-05-05","v":1.3},{"d":"2002-05-16","v":1.0},{"d":"2002-05-26","v":1.25},{"d":"2002-06-06","v":1.0},{"d":"2002-06-16","v":1.2},{"d":"2002-06-26","v":1.3},{"d":"2002-07-01","v":2.42},{"d":"2002-07-08","v":1.6},{"d":"2002-07-16","v":2.0},{"d":"2002-07-23","v":2.36},{"d":"2002-08-01","v":1.2},{"d":"2002-08-11","v":0.7},{"d":"2002-08-24","v":0.5},{"d":"2002-09-09","v":0.3},{"d":"2002-10-04","v":0.15},{"d":"2002-11-07","v":0.08},{"d":"2002-12-19","v":0.06},
      {"d":"2003-02-06","v":0.06},{"d":"2003-02-18","v":0.4},{"d":"2003-03-01","v":1.0},{"d":"2003-03-11","v":1.92},{"d":"2003-03-19","v":1.4},{"d":"2003-03-26","v":3.7},{"d":"2003-04-01","v":1.9},{"d":"2003-04-09","v":1.3},{"d":"2003-04-16","v":1.8},{"d":"2003-04-27","v":1.2},{"d":"2003-05-07","v":0.9},{"d":"2003-05-16","v":1.4},{"d":"2003-05-27","v":1.75},{"d":"2003-06-07","v":1.2},{"d":"2003-06-14","v":1.95},{"d":"2003-06-25","v":1.3},{"d":"2003-07-04","v":1.65},{"d":"2003-07-15","v":1.0},{"d":"2003-07-25","v":1.5},{"d":"2003-08-05","v":1.1},{"d":"2003-08-15","v":1.4},{"d":"2003-08-25","v":0.7},{"d":"2003-09-07","v":0.5},{"d":"2003-09-22","v":0.3},{"d":"2003-10-18","v":0.15},{"d":"2003-11-19","v":0.08},{"d":"2003-12-22","v":0.05},
      {"d":"2004-01-30","v":0.05},{"d":"2004-02-13","v":0.45},{"d":"2004-02-25","v":1.0},{"d":"2004-03-02","v":1.3},{"d":"2004-03-10","v":1.68},{"d":"2004-03-19","v":1.3},{"d":"2004-03-30","v":1.6},{"d":"2004-04-10","v":1.1},{"d":"2004-04-21","v":1.2},{"d":"2004-04-28","v":1.45},{"d":"2004-05-07","v":1.0},{"d":"2004-05-19","v":1.2},{"d":"2004-05-28","v":0.95},{"d":"2004-06-08","v":1.3},{"d":"2004-06-18","v":1.0},{"d":"2004-06-28","v":1.1},{"d":"2004-07-08","v":1.4},{"d":"2004-07-13","v":1.65},{"d":"2004-07-23","v":1.0},{"d":"2004-08-04","v":0.95},{"d":"2004-08-14","v":0.8},{"d":"2004-08-24","v":1.0},{"d":"2004-09-04","v":1.18},{"d":"2004-09-14","v":0.7},{"d":"2004-09-29","v":0.35},{"d":"2004-10-25","v":0.2},{"d":"2004-11-19","v":0.12},{"d":"2004-12-16","v":0.07},{"d":"2004-12-31","v":0.05}
    ]
  },
  "layer": [
    {
      "data": {"name": "obs"},
      "mark": {"type": "line", "strokeWidth": 2.2, "clip": true, "interpolate": "linear"},
      "encoding": {
        "x": {
          "field": "d",
          "type": "temporal",
          "scale": {
            "type": "utc",
            "domain": [
              {"year": 1982, "month": 1, "date": 10, "utc": true},
              {"year": 2005, "month": 1, "date": 2, "utc": true}
            ]
          },
          "axis": {
            "title": null,
            "format": "%b-%y",
            "values": [
              {"year": 1982, "month": 1, "date": 10, "utc": true},
              {"year": 1984, "month": 10, "date": 6, "utc": true},
              {"year": 1987, "month": 7, "date": 3, "utc": true},
              {"year": 1990, "month": 3, "date": 29, "utc": true},
              {"year": 1992, "month": 12, "date": 23, "utc": true},
              {"year": 1995, "month": 9, "date": 19, "utc": true},
              {"year": 1998, "month": 6, "date": 15, "utc": true},
              {"year": 2001, "month": 3, "date": 11, "utc": true},
              {"year": 2003, "month": 12, "date": 6, "utc": true}
            ],
            "tickSize": 7,
            "labelPadding": 16,
            "labelFlush": false,
            "labelOverlap": false
          }
        },
        "y": {
          "field": "v",
          "type": "quantitative",
          "scale": {"domain": [0, 5], "nice": false, "zero": true},
          "axis": {
            "title": "Discharge (1000 m³/s)",
            "format": "d",
            "values": [0, 1, 2, 3, 4, 5],
            "tickSize": 6,
            "labelPadding": 15,
            "titlePadding": 20
          }
        },
        "color": {
          "datum": "Kharmong observation",
          "type": "nominal",
          "scale": {
            "domain": ["Kharmong observation", "Kharmong simulation"],
            "range": ["#000000", "#00B050"]
          },
          "legend": {
            "title": null,
            "orient": "none",
            "direction": "horizontal",
            "legendX": 215,
            "legendY": 57,
            "symbolType": "stroke",
            "symbolSize": 3600,
            "symbolStrokeWidth": 2.5,
            "labelOffset": 6,
            "labelLimit": 0,
            "columnPadding": 68
          }
        },
        "detail": {"field": "s", "type": "nominal"}
      }
    },
    {
      "data": {"name": "sim"},
      "mark": {"type": "line", "strokeWidth": 2.2, "clip": true, "interpolate": "linear"},
      "encoding": {
        "x": {"field": "d", "type": "temporal"},
        "y": {"field": "v", "type": "quantitative"},
        "color": {"datum": "Kharmong simulation", "type": "nominal"}
      }
    }
  ]
}
